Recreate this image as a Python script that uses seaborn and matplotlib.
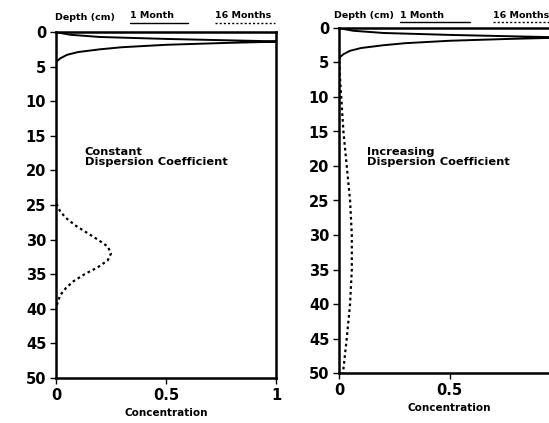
import numpy as np
import pandas as pd
import matplotlib
matplotlib.use("Agg")
import matplotlib.pyplot as plt
import seaborn as sns
from matplotlib.lines import Line2D

# ---- data (concentration, depth in cm) ----
month1_conc = [0, 0.03, 0.065, 0.2, 0.5, 0.75, 1.0, 1.0, 0.75, 0.5, 0.3, 0.2, 0.1, 0.05, 0.02, 0.005, 0]
month1_depth = [0, 0.2, 0.4, 0.72, 1.0, 1.18, 1.35, 1.4, 1.6, 1.85, 2.2, 2.5, 2.9, 3.3, 3.8, 4.2, 4.5]

const16_depth = [24, 25, 26, 27, 28, 29, 30, 31, 32, 33, 34, 35, 36, 37, 38, 39, 40]
const16_conc = [0, 0.005, 0.02, 0.05, 0.09, 0.14, 0.19, 0.235, 0.25, 0.235, 0.19, 0.13, 0.08, 0.045, 0.02, 0.008, 0]

incr16_depth = [4, 6, 8, 10, 12, 15, 20, 25, 30, 35, 40, 45, 50]
incr16_conc = [0, 0.003, 0.006, 0.01, 0.014, 0.02, 0.035, 0.05, 0.058, 0.058, 0.05, 0.035, 0.018]

yticks = [0, 5, 10, 15, 20, 25, 30, 35, 40, 45, 50]
xticks = [0, 0.5, 1]
xticklabels_left = ["0", "0.5", "1"]
xticklabels_right = ["0", "0.5", ""]
panel_labels = ["Constant\nDispersion Coefficient", "Increasing\nDispersion Coefficient"]

sns.set_theme(style="white")
plt.rcParams["font.family"] = ["DejaVu Sans"]
plt.rcParams["text.color"] = "black"
plt.rcParams["axes.labelcolor"] = "black"
plt.rcParams["xtick.color"] = "black"
plt.rcParams["ytick.color"] = "black"

W, H = 549, 423
fig = plt.figure(figsize=(W / 100, H / 100), dpi=100)

def fx(px):
    return px / W

def fy(py):
    return 1 - py / H

ax1 = fig.add_axes([fx(56), fy(378), fx(276) - fx(56), fy(32) - fy(378)])
ax2 = fig.add_axes([fx(339), fy(373), fx(560) - fx(339), fy(28) - fy(373)])

m1 = pd.DataFrame({"conc": month1_conc, "depth": month1_depth})
c16 = pd.DataFrame({"conc": const16_conc, "depth": const16_depth})
i16 = pd.DataFrame({"conc": incr16_conc, "depth": incr16_depth})

for ax, d16, xtl in [(ax1, c16, xticklabels_left), (ax2, i16, xticklabels_right)]:
    sns.lineplot(data=m1, x="conc", y="depth", sort=False, estimator=None,
                 color="black", lw=1.4, ax=ax)
    sns.lineplot(data=d16, x="conc", y="depth", sort=False, estimator=None,
                 color="black", lw=1.6, ax=ax, linestyle=(0, (1.2, 1.4)))
    ax.set_xlim(0, 1)
    ax.set_ylim(50, 0)
    ax.set_yticks(yticks)
    ax.set_xticks(xticks)
    ax.set_xticklabels(xtl)
    ax.set_ylabel("")
    ax.set_xlabel("Concentration", fontsize=7.5, fontweight="bold", labelpad=4)
    ax.tick_params(axis="both", direction="out", length=4, width=1, color="black",
                   labelcolor="black", labelsize=10.5, pad=3, left=True, bottom=True)
    for t in ax.get_xticklabels() + ax.get_yticklabels():
        t.set_fontweight("bold")
    for s in ax.spines.values():
        s.set_color("black")
        s.set_linewidth(1.8)
    ax.set_facecolor("white")

ax1.text(0.13, 0.64, panel_labels[0], transform=ax1.transAxes, fontsize=8.2,
         fontweight="bold", va="center", ha="left", linespacing=1.0)
ax2.text(0.127, 0.625, panel_labels[1], transform=ax2.transAxes, fontsize=8.2,
         fontweight="bold", va="center", ha="left", linespacing=1.0)

# header legend text
hdr = dict(fontsize=6.8, fontweight="bold", va="center", ha="left")
fig.text(fx(55), fy(18), "Depth (cm)", **hdr)
fig.text(fx(130), fy(16), "1 Month", **hdr)
fig.text(fx(215), fy(16), "16 Months", **hdr)
fig.text(fx(334), fy(16), "Depth (cm)", **hdr)
fig.text(fx(400), fy(15), "1 Month", **hdr)
fig.text(fx(493), fy(15), "16 Months", **hdr)

fig.add_artist(Line2D([fx(130), fx(188)], [fy(23), fy(23)], color="black", lw=1.0,
                      transform=fig.transFigure))
fig.add_artist(Line2D([fx(215), fx(275)], [fy(23), fy(23)], color="black", lw=1.0,
                      linestyle=(0, (1.5, 1.5)), transform=fig.transFigure))
fig.add_artist(Line2D([fx(400), fx(470)], [fy(22), fy(22)], color="black", lw=1.0,
                      transform=fig.transFigure))
fig.add_artist(Line2D([fx(493), fx(549)], [fy(22), fy(22)], color="black", lw=1.0,
                      linestyle=(0, (1.5, 1.5)), transform=fig.transFigure))

fig.savefig("out.png", dpi=100, facecolor="white")
